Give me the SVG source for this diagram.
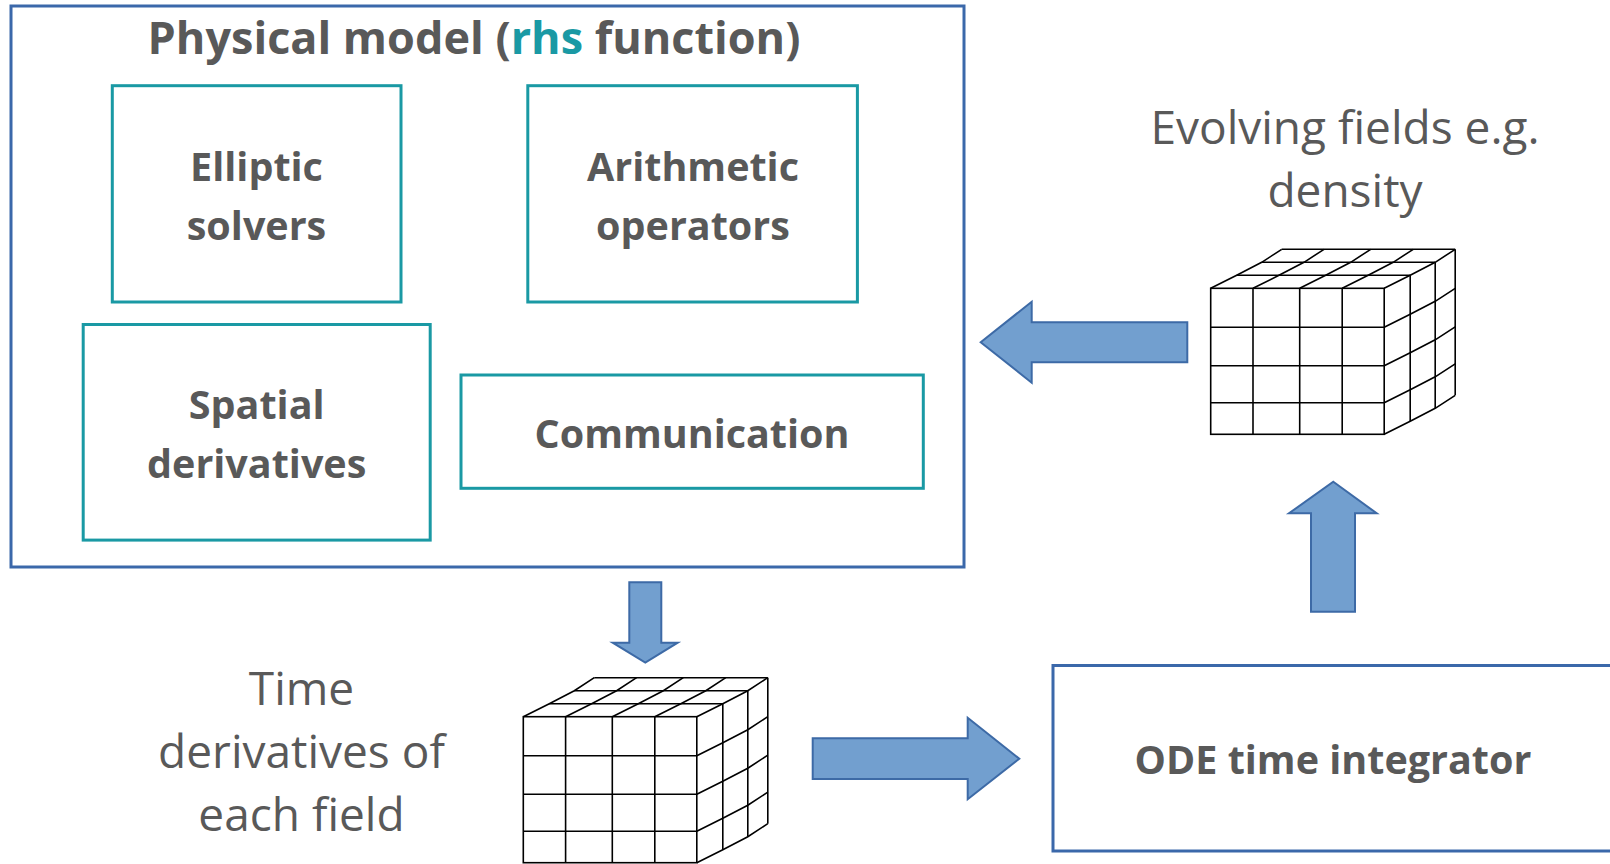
<svg xmlns="http://www.w3.org/2000/svg" width="1610" height="864" viewBox="0 0 1610 864">
<defs>
<style>
.bold{font-family:"Open Sans","Noto Sans",sans-serif;font-weight:bold;fill:#595959;text-anchor:middle}
.reg{font-family:"Open Sans","Noto Sans",sans-serif;fill:#595959;text-anchor:middle}
.teal{fill:#fff;stroke:#1a99a4;stroke-width:3}
.blue{fill:#fff;stroke:#3b68aa;stroke-width:3}
.arrow{fill:#729fcf;stroke:#3d6aa6;stroke-width:2;stroke-linejoin:miter}
.cube line,.cube polyline,.cube rect{fill:none;stroke:#000;stroke-width:1.6}
</style>
<g id="cubeShape" class="cube">
<rect x="0" y="0" width="173.5" height="146" fill="#fff"/>
<line x1="42.3" y1="0" x2="42.3" y2="146"/>
<line x1="89" y1="0" x2="89" y2="146"/>
<line x1="131.5" y1="0" x2="131.5" y2="146"/>
<line x1="0" y1="39" x2="173.5" y2="39"/>
<line x1="0" y1="77.5" x2="173.5" y2="77.5"/>
<line x1="0" y1="114.5" x2="173.5" y2="114.5"/>
<line x1="26" y1="-13" x2="199.5" y2="-13"/>
<line x1="51" y1="-26" x2="224.5" y2="-26"/>
<line x1="71" y1="-39" x2="244.5" y2="-39"/>
<polyline points="0,0 26,-13 51,-26 71,-39"/>
<polyline points="42.3,0 68.3,-13 93.3,-26 113.3,-39"/>
<polyline points="89,0 115,-13 140,-26 160,-39"/>
<polyline points="131.5,0 157.5,-13 182.5,-26 202.5,-39"/>
<polyline points="173.5,0 199.5,-13 224.5,-26 244.5,-39"/>
<line x1="199.5" y1="-13" x2="199.5" y2="133"/>
<line x1="224.5" y1="-26" x2="224.5" y2="120"/>
<line x1="244.5" y1="-39" x2="244.5" y2="107"/>
<polyline points="173.5,39 199.5,26 224.5,13 244.5,0"/>
<polyline points="173.5,77.5 199.5,64.5 224.5,51.5 244.5,38.5"/>
<polyline points="173.5,114.5 199.5,101.5 224.5,88.5 244.5,75.5"/>
<polyline points="173.5,146 199.5,133 224.5,120 244.5,107"/>
</g>
</defs>
<rect width="1610" height="864" fill="#fff"/>

<g id="physical-model">
<rect class="blue" x="11" y="6" width="953" height="561"/>
<text class="bold" x="474" y="54" font-size="45">Physical model (<tspan fill="#1a99a4">rhs</tspan> function)</text>
</g>

<g id="elliptic-solvers">
<rect class="teal" x="112.3" y="85.7" width="288.7" height="216.3"/>
<text class="bold" x="256.5" y="181" font-size="39.5">Elliptic</text>
<text class="bold" x="256.5" y="240" font-size="39.5">solvers</text>
</g>

<g id="arithmetic-operators">
<rect class="teal" x="527.8" y="85.7" width="329.6" height="216.3"/>
<text class="bold" x="693" y="181" font-size="39.5">Arithmetic</text>
<text class="bold" x="693" y="240" font-size="39.5">operators</text>
</g>

<g id="spatial-derivatives">
<rect class="teal" x="83.2" y="324.5" width="347" height="215.6"/>
<text class="bold" x="256.7" y="419" font-size="39.5">Spatial</text>
<text class="bold" x="256.7" y="477.5" font-size="39.5">derivatives</text>
</g>

<g id="communication">
<rect class="teal" x="461" y="375" width="462.3" height="113.3"/>
<text class="bold" x="692" y="447.5" font-size="39.5">Communication</text>
</g>

<g id="evolving-fields">
<text class="reg" x="1345" y="144" font-size="46">Evolving fields e.g.</text>
<text class="reg" x="1345" y="206.5" font-size="46">density</text>
<use href="#cubeShape" transform="translate(1210.7,288.3)"/>
</g>

<g id="time-derivatives">
<text class="reg" x="301.5" y="704.5" font-size="46">Time</text>
<text class="reg" x="301.5" y="768" font-size="46">derivatives of</text>
<text class="reg" x="301.5" y="830.7" font-size="46">each field</text>
<use href="#cubeShape" transform="translate(523.3,716.7)"/>
</g>

<g id="ode-integrator">
<rect class="blue" x="1053" y="665.5" width="570" height="185.5"/>
<text class="bold" x="1333" y="774" font-size="39.5">ODE time integrator</text>
</g>

<g id="connectors">
<polygon class="arrow" points="980.7,342.3 1031.7,301.7 1031.7,322.3 1187.3,322.3 1187.3,362.3 1031.7,362.3 1031.7,382.7"/>
<polygon class="arrow" points="629.3,582.3 661.3,582.3 661.3,642.7 677.7,642.7 645.3,662.7 612.7,642.7 629.3,642.7"/>
<polygon class="arrow" points="812.7,738.3 967.7,738.3 967.7,717.7 1019.3,758.7 967.7,799.3 967.7,779 812.7,779"/>
<polygon class="arrow" points="1333.3,481.7 1376.7,513.3 1355,513.3 1355,611.7 1311,611.7 1311,513.3 1289,513.3"/>
</g>
</svg>
